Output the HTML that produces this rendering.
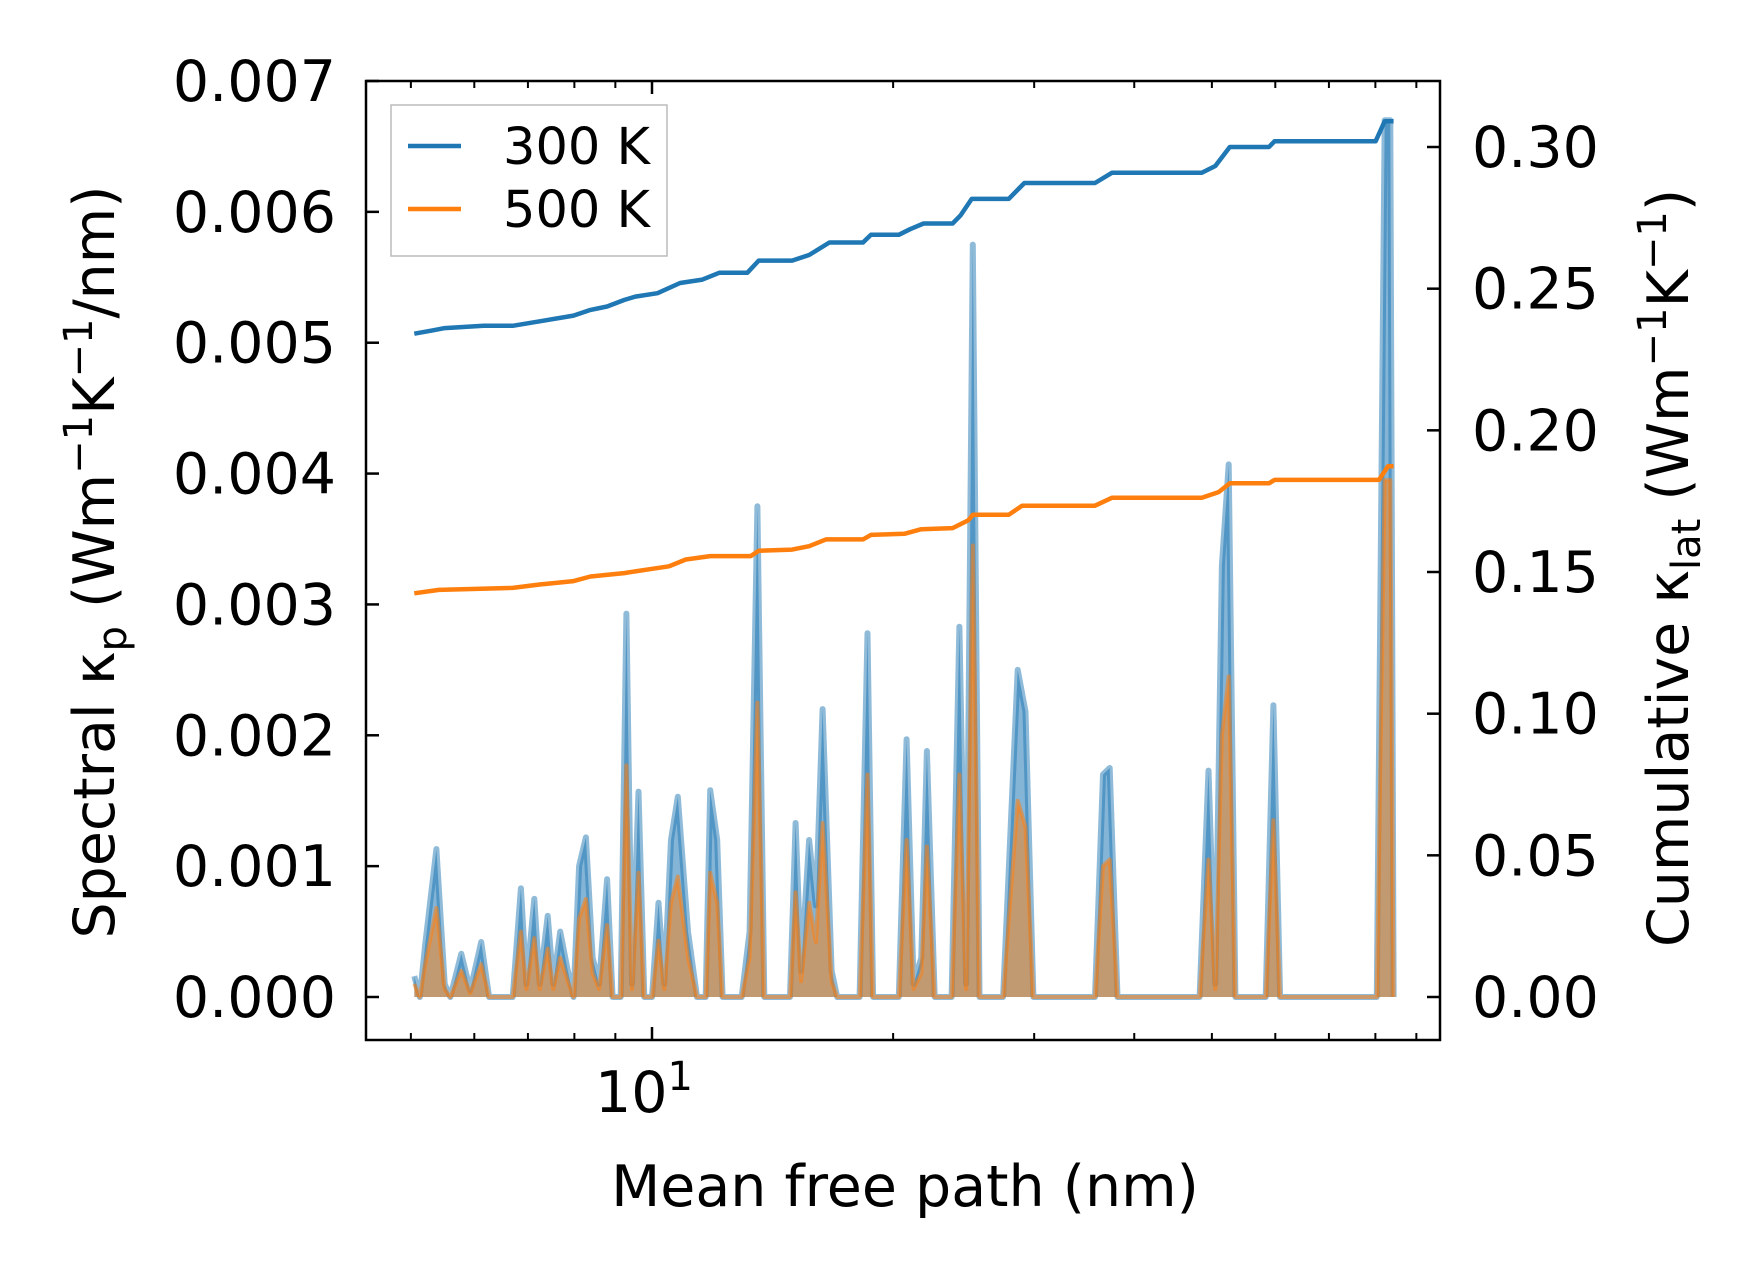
<!DOCTYPE html>
<html><head><meta charset="utf-8"><style>
html,body{margin:0;padding:0;background:#fff;}
svg{display:block;font-family:"DejaVu Sans","Liberation Sans",sans-serif;}
</style></head><body>
<svg id="chart" width="1753" height="1272" viewBox="0 0 1753 1272" xmlns="http://www.w3.org/2000/svg">
<rect width="1753" height="1272" fill="#fff"/>
<g id="plot"></g>
<rect x="366" y="81" width="1074" height="959" fill="none" stroke="#000" stroke-width="2.5"/>
<g id="ticks"></g>
<text transform="translate(114,562) rotate(-90)" text-anchor="middle" font-size="57">Spectral κ<tspan font-size="40" dy="12">p</tspan><tspan dy="-12"> (Wm</tspan><tspan font-size="40" dy="-22">−1</tspan><tspan dy="22">K</tspan><tspan font-size="40" dy="-22">−1</tspan><tspan dy="22">/nm)</tspan></text>
<text transform="translate(1688,568) rotate(-90)" text-anchor="middle" font-size="57">Cumulative κ<tspan font-size="40" dy="12">lat</tspan><tspan dy="-12"> (Wm</tspan><tspan font-size="40" dy="-22">−1</tspan><tspan dy="22">K</tspan><tspan font-size="40" dy="-22">−1</tspan><tspan dy="22">)</tspan></text>
<text x="905" y="1206" text-anchor="middle" font-size="57">Mean free path (nm)</text>
<g>
<rect x="391" y="105" width="276" height="151" fill="#fff" stroke="#bbb" stroke-width="1.5"/>
<line x1="408" y1="146" x2="461" y2="146" stroke="#1f77b4" stroke-width="4.5"/>
<text x="503" y="164" font-size="51">300 K</text>
<line x1="408" y1="209" x2="461" y2="209" stroke="#ff7f0e" stroke-width="4.5"/>
<text x="503" y="227" font-size="51">500 K</text>
</g>
</svg>
<script>
const mfpSpec = [5.05,5.13,5.21,5.38,5.51,5.60,5.78,5.93,6.12,6.26,6.70,6.86,6.97,7.13,7.24,7.41,7.53,7.68,7.85,7.98,8.11,8.27,8.43,8.59,8.79,8.93,9.14,9.29,9.44,9.62,9.78,10.00,10.19,10.36,10.56,10.77,11.09,11.38,11.67,11.82,12.06,12.25,12.94,13.24,13.54,13.81,14.87,15.11,15.35,15.71,16.02,16.33,16.76,17.03,18.16,18.58,18.88,20.33,20.79,21.21,21.69,22.04,22.54,23.66,24.20,24.67,25.15,25.64,27.44,28.61,29.26,29.93,35.73,36.56,37.27,38.12,48.26,49.52,50.49,51.46,52.48,53.50,58.36,59.68,60.84,80.32,82.17,83.50,84.30];
const spec300 = [0.00016,0,0.0004,0.00113,0.0001,0,0.00033,0.00005,0.00042,0,0,0.00083,0.0001,0.00075,0.0001,0.00062,0.0001,0.0005,0.0002,0,0.001,0.00122,0.0003,0.0001,0.0009,0,0,0.00293,0.0001,0.00157,0,0,0.00072,0.0001,0.0012,0.00153,0.0005,0,0,0.00158,0.0012,0,0,0.0005,0.00375,0,0,0.00133,0.0002,0.0012,0.0007,0.0022,0.0002,0,0,0.00278,0,0,0.00197,0.0001,0.0003,0.00188,0,0,0.00283,0.0001,0.00575,0,0,0.0025,0.00218,0,0,0.0017,0.00175,0,0,0.00173,0.0001,0.0033,0.00407,0,0,0.00223,0,0,0.0067,0.0067,0];
const spec500 = [0.0001,0,0.00025,0.00068,0.00006,0,0.0002,0.00003,0.00025,0,0,0.0005,0.00006,0.00045,0.00006,0.00037,0.00006,0.0003,0.00012,0,0.0006,0.00075,0.00018,0.00006,0.00055,0,0,0.00177,0.00006,0.00095,0,0,0.00043,0.00006,0.00072,0.00092,0.0003,0,0,0.00095,0.00072,0,0,0.0003,0.00225,0,0,0.0008,0.00012,0.00072,0.00042,0.00133,0.00012,0,0,0.0017,0,0,0.0012,0.00006,0.00018,0.00115,0,0,0.0017,0.00006,0.00345,0,0,0.0015,0.0013,0,0,0.001,0.00105,0,0,0.00105,0.00006,0.002,0.00245,0,0,0.00135,0,0,0.00395,0.00395,0];
const mfpCum300 = [5.05,5.33,5.51,6.16,6.70,7.24,7.98,8.38,8.79,9.23,9.53,10.16,10.84,11.56,12.13,13.15,13.59,14.96,15.71,16.65,18.34,18.76,20.33,21.00,21.83,23.73,24.27,25.07,27.88,29.17,35.73,37.51,48.57,50.49,52.65,58.92,59.87,80.06,82.17,84.30];
const cum300 = [0.2341,0.2353,0.2361,0.2369,0.2369,0.2385,0.2405,0.2425,0.2437,0.2460,0.2472,0.2484,0.2520,0.2532,0.2556,0.2556,0.2599,0.2599,0.2619,0.2663,0.2663,0.2690,0.2690,0.2710,0.2730,0.2730,0.2758,0.2817,0.2817,0.2873,0.2873,0.2909,0.2909,0.2933,0.3000,0.3000,0.3020,0.3020,0.3091,0.3091];
const mfpCum500 = [5.05,5.42,6.70,7.24,7.98,8.38,9.23,9.84,10.50,11.02,11.82,13.28,13.59,14.96,15.71,16.49,18.34,18.76,20.66,21.69,23.73,24.83,25.15,27.88,28.98,35.73,37.51,48.57,50.98,52.65,58.92,59.87,80.84,82.96,84.30];
const cum500 = [0.1425,0.1437,0.1444,0.1456,0.1468,0.1484,0.1496,0.1508,0.1520,0.1544,0.1556,0.1556,0.1575,0.1579,0.1591,0.1615,0.1615,0.1631,0.1635,0.1651,0.1655,0.1683,0.1702,0.1702,0.1734,0.1734,0.1762,0.1762,0.1782,0.1813,0.1813,0.1825,0.1825,0.1873,0.1873];
const leftTicks = [0,0.001,0.002,0.003,0.004,0.005,0.006,0.007];
const leftTickLabels = ["0.000","0.001","0.002","0.003","0.004","0.005","0.006","0.007"];
const rightTicks = [0,0.05,0.10,0.15,0.20,0.25,0.30];
const rightTickLabels = ["0.00","0.05","0.10","0.15","0.20","0.25","0.30"];
const xMinorTicks = [5,6,7,8,9,20,30,40,50,60,70,80,90];

const NS="http://www.w3.org/2000/svg";
const L=366,R=1440,T=81,B=1040;
function xs(m){return 652+(Math.log10(m)-1)*801;}
function yl(v){return 997-v*130857;}
function yr(c){return 997-c*2833.3;}
function mk(tag,attrs,parent){const e=document.createElementNS(NS,tag);for(const k in attrs)e.setAttribute(k,attrs[k]);parent.appendChild(e);return e;}
const plot=document.getElementById('plot');
const ticks=document.getElementById('ticks');

function specPath(vals){return mfpSpec.map((m,i)=>(i?'L':'M')+xs(m).toFixed(1)+','+yl(vals[i]).toFixed(1)).join(' ');}
function specArea(vals){return specPath(vals)+' L'+xs(mfpSpec[mfpSpec.length-1]).toFixed(1)+','+yl(0)+' L'+xs(mfpSpec[0]).toFixed(1)+','+yl(0)+' Z';}
let a=mk('path',{d:specArea(spec300),fill:'#1f77b4','fill-opacity':0.55,stroke:'none'},plot);


let l=mk('path',{d:specPath(spec300),fill:'none',stroke:'#1f77b4','stroke-opacity':0.5,'stroke-width':6,'stroke-linejoin':'round'},plot);


let a2=mk('path',{d:specArea(spec500),fill:'#ff7f0e','fill-opacity':0.5,stroke:'none'},plot);


let l2=mk('path',{d:specPath(spec500),fill:'none',stroke:'#ff7f0e','stroke-opacity':0.55,'stroke-width':4,'stroke-linejoin':'round'},plot);


function cumPath(ms,vs){return ms.map((m,i)=>(i?'L':'M')+xs(m).toFixed(1)+','+yr(vs[i]).toFixed(1)).join(' ');}
let c1=mk('path',{d:cumPath(mfpCum300,cum300),fill:'none',stroke:'#1f77b4','stroke-width':4.5,'stroke-linejoin':'round'},plot);


let c2=mk('path',{d:cumPath(mfpCum500,cum500),fill:'none',stroke:'#ff7f0e','stroke-width':4.5,'stroke-linejoin':'round'},plot);



leftTicks.forEach((v,i)=>{const y=yl(v);
 let t=mk('line',{x1:L,x2:L+13,y1:y,y2:y,stroke:'#000','stroke-width':2.5},ticks);
 
 
 let tx=mk('text',{x:L-30,y:y+20,'text-anchor':'end','font-size':57},ticks);tx.textContent=leftTickLabels[i];
 
 });
rightTicks.forEach((v,i)=>{const y=yr(v);
 let t=mk('line',{x1:R-13,x2:R,y1:y,y2:y,stroke:'#000','stroke-width':2.5},ticks);
 
 
 let tx=mk('text',{x:R+32,y:y+20,'font-size':57},ticks);tx.textContent=rightTickLabels[i];
 
 });
[B,T].forEach((yy,k)=>{const d=k?1:-1;
 let t=mk('line',{x1:xs(10),x2:xs(10),y1:yy,y2:yy+d*13,stroke:'#000','stroke-width':2.5},ticks);
 
 
 xMinorTicks.forEach(m=>{let mt=mk('line',{x1:xs(m),x2:xs(m),y1:yy,y2:yy+d*7,stroke:'#000','stroke-width':2},ticks);
 
 });});
let xl=mk('text',{x:xs(10)-8,y:1112,'text-anchor':'middle','font-size':57},ticks);
xl.innerHTML='10<tspan font-size="40" dy="-22">1</tspan>';


</script>
</body></html>
